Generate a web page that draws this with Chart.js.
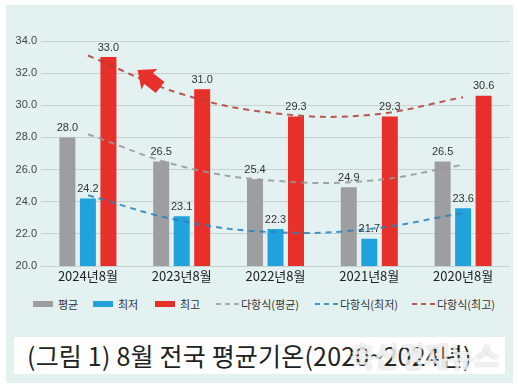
<!DOCTYPE html>
<html>
<head>
<meta charset="utf-8">
<script src="https://cdn.jsdelivr.net/npm/chart.js@4/dist/chart.umd.min.js"></script>
<style>
  body { margin: 0; width: 518px; height: 390px; background: #fff; position: relative; overflow: hidden;
         font-family: "Noto Sans CJK KR", "Noto Sans", sans-serif; }
  .panel { position: absolute; left: 6px; top: 5px; width: 507px; height: 378px; background: #e4f1f1; }
  #wrap { position: absolute; left: 0; top: 0; width: 518px; height: 290px; }
  .legend { position: absolute; top: 296px; left: 33px; font-size: 11px; color: #333; white-space: nowrap; }
  .legend span.item { position: absolute; top: 0; display: flex; align-items: center; height: 16px; }
  .legend .box { width: 20px; height: 6px; margin-right: 5px; }
  .legend .dash { width: 24px; height: 2px; margin-right: 1px; }
  .title { position: absolute; left: 14px; top: 337px; width: 491px; height: 37px; background: #fff; }
  .title .t { position: absolute; left: 13px; top: 1px; font-size: 25px; color: #222; line-height: 34px; letter-spacing: 0.2px; }
  .title .wm { position: absolute; left: 336px; top: 2px; font-size: 27px; font-weight: bold; line-height: 34px;
               color: rgba(255,255,255,0.75); text-shadow: 0 0 2px rgba(120,120,120,0.5); }
</style>
</head>
<body>
<div class="panel"></div>
<div id="wrap"><canvas id="myChart" width="518" height="290"></canvas></div>
<div class="legend" id="legend"></div>
<div class="title"><span class="t">(그림 1) 8월 전국 평균기온(2020~2024년)</span><span class="wm">축산경제뉴스</span></div>
<script>
const ctx = document.getElementById('myChart');

const categories = ['2024년8월', '2023년8월', '2022년8월', '2021년8월', '2020년8월'];
const avgTemp = [28.0, 26.5, 25.4, 24.9, 26.5];
const minTemp = [24.2, 23.1, 22.3, 21.7, 23.6];
const maxTemp = [33.0, 31.0, 29.3, 29.3, 30.6];
// trend lines at each month
const trendAvg = [28.2, 26.2, 25.3, 25.3, 26.3];
const trendMin = [24.4, 22.8, 22.1, 22.3, 23.3];
const trendMax = [33.1, 30.7, 29.5, 29.4, 30.5];
const yTicks = [20, 22, 24, 26, 28, 30, 32, 34];

const GRAY = '#9e9d9f', BLUE = '#22a2dc', RED = '#e8302a';
const GRAY_T = 'rgba(150,150,150,0.85)', BLUE_T = 'rgba(40,130,190,0.85)', RED_T = 'rgba(175,60,50,0.85)';

function barSet(label, data, color) {
  return { type: 'bar', label: label, data: data, backgroundColor: color, order: 2,
           categoryPercentage: 0.656, barPercentage: 0.78 };
}
function trendSet(label, data, color) {
  return { type: 'line', label: label, data: data, borderColor: color, borderWidth: 2,
           borderDash: [6, 5], pointRadius: 0, tension: 0.4, fill: false, order: 1 };
}

// value labels above bars
const barLabels = {
  id: 'barLabels',
  afterDatasetsDraw(chart) {
    const c = chart.ctx;
    c.save();
    c.font = '11px "Liberation Sans", Arial, sans-serif';
    c.fillStyle = '#333';
    c.textAlign = 'center';
    c.textBaseline = 'bottom';
    chart.data.datasets.forEach((ds, i) => {
      if (ds.type !== 'bar') return;
      chart.getDatasetMeta(i).data.forEach((bar, j) => {
        c.fillText(ds.data[j].toFixed(1), bar.x, bar.y - 4);
      });
    });
    c.restore();
  }
};

// red arrow pointing at the max trend line
const arrowMark = {
  id: 'arrowMark',
  afterDatasetsDraw(chart) {
    const xs = chart.scales.x, ys = chart.scales.y;
    const step = xs.getPixelForValue(1) - xs.getPixelForValue(0);
    const tipX = xs.getPixelForValue(0) + step * 0.53, tipY = ys.getPixelForValue(32.2);
    const tailX = xs.getPixelForValue(0) + step * 0.77, tailY = ys.getPixelForValue(31.1);
    const ang = Math.atan2(tipY - tailY, tipX - tailX);
    const len = Math.hypot(tipX - tailX, tipY - tailY);
    const c = chart.ctx;
    c.save();
    c.translate(tipX, tipY);
    c.rotate(ang);
    c.beginPath();
    c.moveTo(0, 0);
    c.lineTo(-15, -13);
    c.lineTo(-14, -7);
    c.lineTo(-len, -7);
    c.lineTo(-len, 7);
    c.lineTo(-14, 7);
    c.lineTo(-15, 13);
    c.closePath();
    c.fillStyle = RED;
    c.fill();
    c.restore();
  }
};

new Chart(ctx, {
  data: {
    labels: categories,
    datasets: [
      barSet('평균', avgTemp, GRAY),
      barSet('최저', minTemp, BLUE),
      barSet('최고', maxTemp, RED),
      trendSet('다항식(평균)', trendAvg, GRAY_T),
      trendSet('다항식(최저)', trendMin, BLUE_T),
      trendSet('다항식(최고)', trendMax, RED_T)
    ]
  },
  options: {
    responsive: false,
    animation: false,
    layout: { padding: { left: 0, right: 8, top: 41, bottom: 0 } },
    plugins: { legend: { display: false }, tooltip: { enabled: false } },
    scales: {
      x: {
        grid: { display: false, drawTicks: false },
        border: { display: false },
        ticks: { color: '#222', font: { size: 13, family: '"Noto Sans CJK KR", sans-serif' }, padding: 2 },
        afterFit(scale) { scale.height = 24; }
      },
      y: {
        min: 20, max: 34,
        afterBuildTicks(scale) { scale.ticks = yTicks.map(v => ({ value: v })); },
        grid: { color: 'rgba(0,0,0,0.13)', drawTicks: false },
        border: { display: false },
        ticks: { color: '#444', padding: 4, font: { size: 11, family: '"Liberation Sans", Arial, sans-serif' },
                 callback: v => v.toFixed(1) },
        afterFit(scale) { scale.width = 41; }
      }
    }
  },
  plugins: [barLabels, arrowMark]
});

// legend
const legendItems = [
  { x: 0, kind: 'box', color: GRAY, text: '평균' },
  { x: 60, kind: 'box', color: BLUE, text: '최저' },
  { x: 122, kind: 'box', color: RED, text: '최고' },
  { x: 183, kind: 'dash', color: '#a9a9a9', text: '다항식(평균)' },
  { x: 282, kind: 'dash', color: '#3f95c6', text: '다항식(최저)' },
  { x: 379, kind: 'dash', color: '#c0574c', text: '다항식(최고)' }
];
const legend = document.getElementById('legend');
legendItems.forEach(it => {
  const s = document.createElement('span');
  s.className = 'item';
  s.style.left = it.x + 'px';
  const m = document.createElement('span');
  m.className = it.kind;
  if (it.kind === 'box') m.style.background = it.color;
  else m.style.background = `repeating-linear-gradient(90deg, ${it.color} 0 5px, transparent 5px 9px)`;
  s.appendChild(m);
  const t = document.createElement('span');
  t.textContent = it.text;
  s.appendChild(t);
  legend.appendChild(s);
});
</script>
</body>
</html>
